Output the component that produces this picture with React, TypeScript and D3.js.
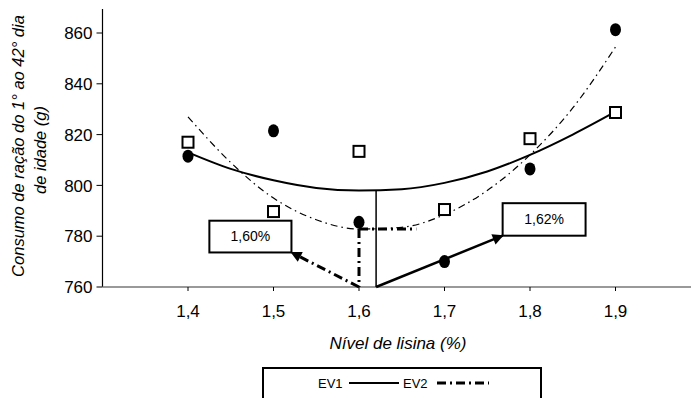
import React from 'react';
import * as d3 from 'd3';

// lysine level (%) and observed intake (g)
const levels = [1.4, 1.5, 1.6, 1.7, 1.8, 1.9];
const circleValues = [811.5, 821.5, 785.5, 770, 806.5, 861.3];
const squareValues = [817, 789.7, 813.4, 790.5, 818.4, 828.7];

// fitted curves
const fitLevels = [1.4, 1.45, 1.5, 1.55, 1.6, 1.65, 1.7, 1.75, 1.8, 1.85, 1.9];
const ev1Fit = [813, 806.5, 802, 799, 798, 798.5, 801, 805.5, 812, 820, 829];
const ev2Fit = [827, 809, 795, 786.5, 782.8, 783.5, 788.5, 798, 812, 830.5, 854.5];

const yTicks = [760, 780, 800, 820, 840, 860];
const xTickLabels = ['1,4', '1,5', '1,6', '1,7', '1,8', '1,9'];

const ev1Optimum = 1.62;
const ev2Optimum = 1.6;
const ev1Label = '1,62%';
const ev2Label = '1,60%';

const W = 691;
const H = 398;
const font = 'Arial, "Liberation Sans", sans-serif';

export default function App() {
  const x = d3.scaleLinear().domain([1.4, 1.9]).range([188, 615.5]);
  const y = d3.scaleLinear().domain([760, 860]).range([287, 33]);
  const x0 = x(1.3);
  const yBase = y(760);

  const line = d3
    .line<number>()
    .x((_, i) => x(fitLevels[i]))
    .y((d) => y(d))
    .curve(d3.curveMonotoneX);

  const ev1Min = ev1Fit[fitLevels.indexOf(1.6)];
  const ev2Min = d3.min(ev2Fit) as number;

  // annotation boxes (data units)
  const box1 = { x0: 1.768, x1: 1.865, top: 793, bottom: 780.2 };
  const box2 = { x0: 1.425, x1: 1.521, top: 786.1, bottom: 773.6 };

  const boldDash = '9,4,2,4';

  return (
    <svg
      width={W}
      height={H}
      style={{ position: 'absolute', left: 0, top: 0, background: '#fff' }}
      fontFamily={font}
    >
      <defs>
        <marker id="arrow" viewBox="0 0 10 10" refX="9" refY="5" markerWidth="13" markerHeight="11"
          markerUnits="userSpaceOnUse" orient="auto">
          <path d="M0,0 L10,5 L0,10 z" fill="#000" />
        </marker>
      </defs>

      {/* y axis */}
      <line x1={x0} x2={x0} y1={9} y2={yBase} stroke="#000" strokeWidth={1.2} />
      {yTicks.map((t) => (
        <g key={t}>
          <line x1={x0 - 6} x2={x0} y1={y(t)} y2={y(t)} stroke="#000" />
          <text x={x0 - 10} y={y(t)} dy="0.36em" textAnchor="end" fontSize={17}>
            {t}
          </text>
        </g>
      ))}

      {/* x axis */}
      <line x1={x0} x2={W} y1={yBase} y2={yBase} stroke="#777" strokeWidth={1.5} />
      {levels.map((l, i) => (
        <g key={l}>
          <line x1={x(l)} x2={x(l)} y1={yBase} y2={yBase + 4} stroke="#000" />
          <text x={x(l)} y={yBase + 30} textAnchor="middle" fontSize={17}>
            {xTickLabels[i]}
          </text>
        </g>
      ))}

      {/* axis titles */}
      <text x={398} y={349} textAnchor="middle" fontSize={17} fontStyle="italic">
        Nível de lisina (%)
      </text>
      <g fontSize={16.5} fontStyle="italic" textAnchor="middle">
        <text transform="translate(24,146) rotate(-90)">Consumo de ração do 1° ao 42° dia</text>
        <text transform="translate(46,150) rotate(-90)">de idade (g)</text>
      </g>

      {/* fitted curves */}
      <path d={line(ev1Fit) ?? ''} fill="none" stroke="#000" strokeWidth={2} />
      <path d={line(ev2Fit) ?? ''} fill="none" stroke="#000" strokeWidth={1.2} strokeDasharray="7,4,1.5,4" />

      {/* EV1 optimum */}
      <line x1={x(ev1Optimum)} x2={x(ev1Optimum)} y1={y(ev1Min)} y2={yBase} stroke="#000" strokeWidth={1.5} />
      <line x1={x(ev1Optimum)} y1={yBase} x2={x(box1.x0)} y2={y(box1.bottom)} stroke="#000" strokeWidth={2.5}
        markerEnd="url(#arrow)" />

      {/* EV2 optimum */}
      <line x1={x(ev2Optimum)} x2={x(1.667)} y1={y(ev2Min)} y2={y(ev2Min)} stroke="#000" strokeWidth={3}
        strokeDasharray={boldDash} />
      <line x1={x(ev2Optimum)} x2={x(ev2Optimum)} y1={y(ev2Min)} y2={yBase} stroke="#000" strokeWidth={3}
        strokeDasharray={boldDash} />
      <line x1={x(ev2Optimum)} y1={yBase} x2={x(box2.x1)} y2={y(box2.bottom)} stroke="#000" strokeWidth={3}
        strokeDasharray={boldDash} markerEnd="url(#arrow)" />

      {/* markers */}
      {levels.map((l, i) => (
        <ellipse key={'c' + l} cx={x(l)} cy={y(circleValues[i])} rx={5.5} ry={6.5} fill="#000" />
      ))}
      {levels.map((l, i) => (
        <rect key={'s' + l} x={x(l) - 5.5} y={y(squareValues[i]) - 5.5} width={11} height={11} fill="#fff"
          stroke="#000" strokeWidth={2} />
      ))}

      {/* label boxes */}
      {[
        { b: box1, label: ev1Label },
        { b: box2, label: ev2Label },
      ].map(({ b, label }) => (
        <g key={label}>
          <rect x={x(b.x0)} y={y(b.top)} width={x(b.x1) - x(b.x0)} height={y(b.bottom) - y(b.top)} fill="#fff"
            stroke="#000" strokeWidth={2} />
          <text x={(x(b.x0) + x(b.x1)) / 2} y={(y(b.top) + y(b.bottom)) / 2} dy="0.35em" textAnchor="middle"
            fontSize={14}>
            {label}
          </text>
        </g>
      ))}

      {/* legend */}
      <rect x={263} y={368} width={278} height={50} fill="#fff" stroke="#000" strokeWidth={2} />
      <g fontSize={13}>
        <text x={318} y={383} dy="0.35em">EV1</text>
        <line x1={349} x2={399} y1={383} y2={383} stroke="#000" strokeWidth={2} />
        <text x={403} y={383} dy="0.35em">EV2</text>
        <line x1={437} x2={489} y1={383} y2={383} stroke="#000" strokeWidth={3} strokeDasharray={boldDash} />
      </g>
    </svg>
  );
}
